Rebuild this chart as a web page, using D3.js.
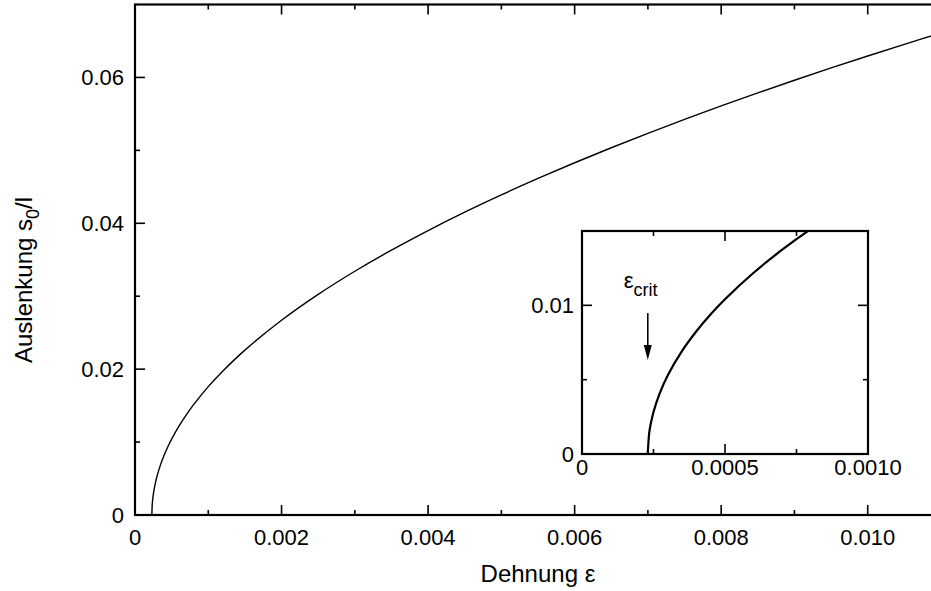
<!DOCTYPE html>
<html>
<head>
<meta charset="utf-8">
<script src="https://cdn.jsdelivr.net/npm/d3@7"></script>
<style>
  html, body { margin: 0; padding: 0; background: #fff; }
  svg { display: block; font-family: "Liberation Sans", Arial, sans-serif; }
</style>
</head>
<body>
<div id="chart"></div>
<script>
// Dehnung ε (strain) and Auslenkung s0/l (deflection)
const strain = [0.00023, 0.000235, 0.00024, 0.00025, 0.00027, 0.0003, 0.00035, 0.0004,
    0.00045, 0.0005, 0.0006, 0.0007, 0.0008, 0.0010, 0.0012, 0.0015, 0.0020, 0.0025,
    0.0030, 0.0035, 0.0040, 0.0045, 0.0050, 0.0055, 0.0060, 0.0065, 0.0070, 0.0075,
    0.0080, 0.0085, 0.0090, 0.0095, 0.0100, 0.0105, 0.0110];
const deflection = [0, 0.00142, 0.00200, 0.00283, 0.00400, 0.00530, 0.00694, 0.00826,
    0.00940, 0.01041, 0.01219, 0.01374, 0.01513, 0.01760, 0.01975, 0.02261, 0.02670, 0.03025,
    0.03342, 0.03632, 0.03901, 0.04153, 0.04390, 0.04615, 0.04830, 0.05036, 0.05234, 0.05425,
    0.05609, 0.05788, 0.05961, 0.06130, 0.06294, 0.06454, 0.06610];

const mainXTicks = [0, 0.002, 0.004, 0.006, 0.008, 0.010];
const mainXLabels = ['0', '0.002', '0.004', '0.006', '0.008', '0.010'];
const mainYTicks = [0, 0.02, 0.04, 0.06];
const mainYLabels = ['0', '0.02', '0.04', '0.06'];

const insetXTicks = [0, 0.0005, 0.0010];
const insetXLabels = ['0', '0.0005', '0.0010'];
const insetYTicks = [0, 0.01];
const insetYLabels = ['0', '0.01'];
const epsCrit = 0.00023;

const W = 931, H = 591;
const svg = d3.select('#chart').append('svg').attr('width', W).attr('height', H);

const data = strain.map((e, i) => ({ e, s: deflection[i] }));

// =============================================================================
// generic framed panel with inward ticks on all four sides
// =============================================================================
function panel({ x, y, xMajor, xMinor, yMajor, yMinor, xLabels, yLabels, clipId, lineWidth, xLabelDy, yLabelDx }) {
    const [x0, x1] = x.range();
    const [y0, y1] = y.range();
    const g = svg.append('g');

    g.append('clipPath').attr('id', clipId)
        .append('rect').attr('x', x0).attr('y', y1).attr('width', x1 - x0).attr('height', y0 - y1);

    const line = d3.line().x(d => x(d.e)).y(d => y(d.s)).curve(d3.curveCatmullRom.alpha(0.5));
    g.append('path')
        .datum(data)
        .attr('clip-path', `url(#${clipId})`)
        .attr('fill', 'none')
        .attr('stroke', '#000')
        .attr('stroke-width', lineWidth)
        .attr('d', line);

    const ticks = g.append('g').attr('stroke', '#000').attr('stroke-width', 1.6);
    const major = 10, minor = 5;
    xMajor.forEach(v => {
        ticks.append('line').attr('x1', x(v)).attr('x2', x(v)).attr('y1', y0).attr('y2', y0 - major);
        ticks.append('line').attr('x1', x(v)).attr('x2', x(v)).attr('y1', y1).attr('y2', y1 + major);
    });
    xMinor.forEach(v => {
        ticks.append('line').attr('x1', x(v)).attr('x2', x(v)).attr('y1', y0).attr('y2', y0 - minor);
        ticks.append('line').attr('x1', x(v)).attr('x2', x(v)).attr('y1', y1).attr('y2', y1 + minor);
    });
    yMajor.forEach(v => {
        ticks.append('line').attr('y1', y(v)).attr('y2', y(v)).attr('x1', x0).attr('x2', x0 + major);
        ticks.append('line').attr('y1', y(v)).attr('y2', y(v)).attr('x1', x1).attr('x2', x1 - major);
    });
    yMinor.forEach(v => {
        ticks.append('line').attr('y1', y(v)).attr('y2', y(v)).attr('x1', x0).attr('x2', x0 + minor);
        ticks.append('line').attr('y1', y(v)).attr('y2', y(v)).attr('x1', x1).attr('x2', x1 - minor);
    });

    g.append('rect')
        .attr('x', x0).attr('y', y1).attr('width', x1 - x0).attr('height', y0 - y1)
        .attr('fill', 'none').attr('stroke', '#000').attr('stroke-width', 2.2);

    g.selectAll('.xl').data(xMajor).join('text')
        .attr('x', d => x(d)).attr('y', y0 + xLabelDy)
        .attr('text-anchor', 'middle').attr('font-size', 22)
        .text((d, i) => xLabels[i]);

    g.selectAll('.yl').data(yMajor).join('text')
        .attr('x', x0 - yLabelDx).attr('y', d => y(d)).attr('dy', '0.36em')
        .attr('text-anchor', 'end').attr('font-size', 22)
        .text((d, i) => yLabels[i]);
    return g;
}

// Hauptdiagramm
const xMain = d3.scaleLinear().domain([0, 0.011]).range([135, 941]);
const yMain = d3.scaleLinear().domain([0, 0.07]).range([515, 4.5]);
panel({
    x: xMain, y: yMain,
    xMajor: mainXTicks, xMinor: [0.001, 0.003, 0.005, 0.007, 0.009],
    yMajor: mainYTicks, yMinor: [0.01, 0.03, 0.05],
    xLabels: mainXLabels, yLabels: mainYLabels,
    clipId: 'clip-main', lineWidth: 1.4, xLabelDy: 30, yLabelDx: 11
});

// Achsentitel
svg.append('text')
    .attr('x', 538).attr('y', 582)
    .attr('text-anchor', 'middle').attr('font-size', 24)
    .text('Dehnung ε');

const yt = svg.append('text')
    .attr('transform', 'translate(32,280) rotate(-90)')
    .attr('text-anchor', 'middle').attr('font-size', 24);
yt.append('tspan').text('Auslenkung s');
yt.append('tspan').attr('font-size', 18).attr('dy', 7).text('0');
yt.append('tspan').attr('dy', -7).text('/l');

// Inset
const xIn = d3.scaleLinear().domain([0, 0.001]).range([582, 868]);
const yIn = d3.scaleLinear().domain([0, 0.015]).range([454, 231]);
svg.append('rect').attr('x', 582).attr('y', 231).attr('width', 286).attr('height', 223).attr('fill', '#fff');
panel({
    x: xIn, y: yIn,
    xMajor: insetXTicks, xMinor: [0.00025, 0.00075],
    yMajor: insetYTicks, yMinor: [0.005],
    xLabels: insetXLabels, yLabels: insetYLabels,
    clipId: 'clip-inset', lineWidth: 2.2, xLabelDy: 21, yLabelDx: 8
});

// ε_crit Markierung
const ex = xIn(epsCrit);
const lab = svg.append('text').attr('x', ex - 24).attr('y', 288).attr('font-size', 22);
lab.append('tspan').text('ε');
lab.append('tspan').attr('font-size', 18).attr('dy', 8).text('crit');

svg.append('line')
    .attr('x1', ex).attr('x2', ex).attr('y1', 313).attr('y2', 346)
    .attr('stroke', '#000').attr('stroke-width', 1.6);
svg.append('path')
    .attr('d', `M${ex - 4},345 L${ex + 4},345 L${ex},360 Z`)
    .attr('fill', '#000');
</script>
</body>
</html>
